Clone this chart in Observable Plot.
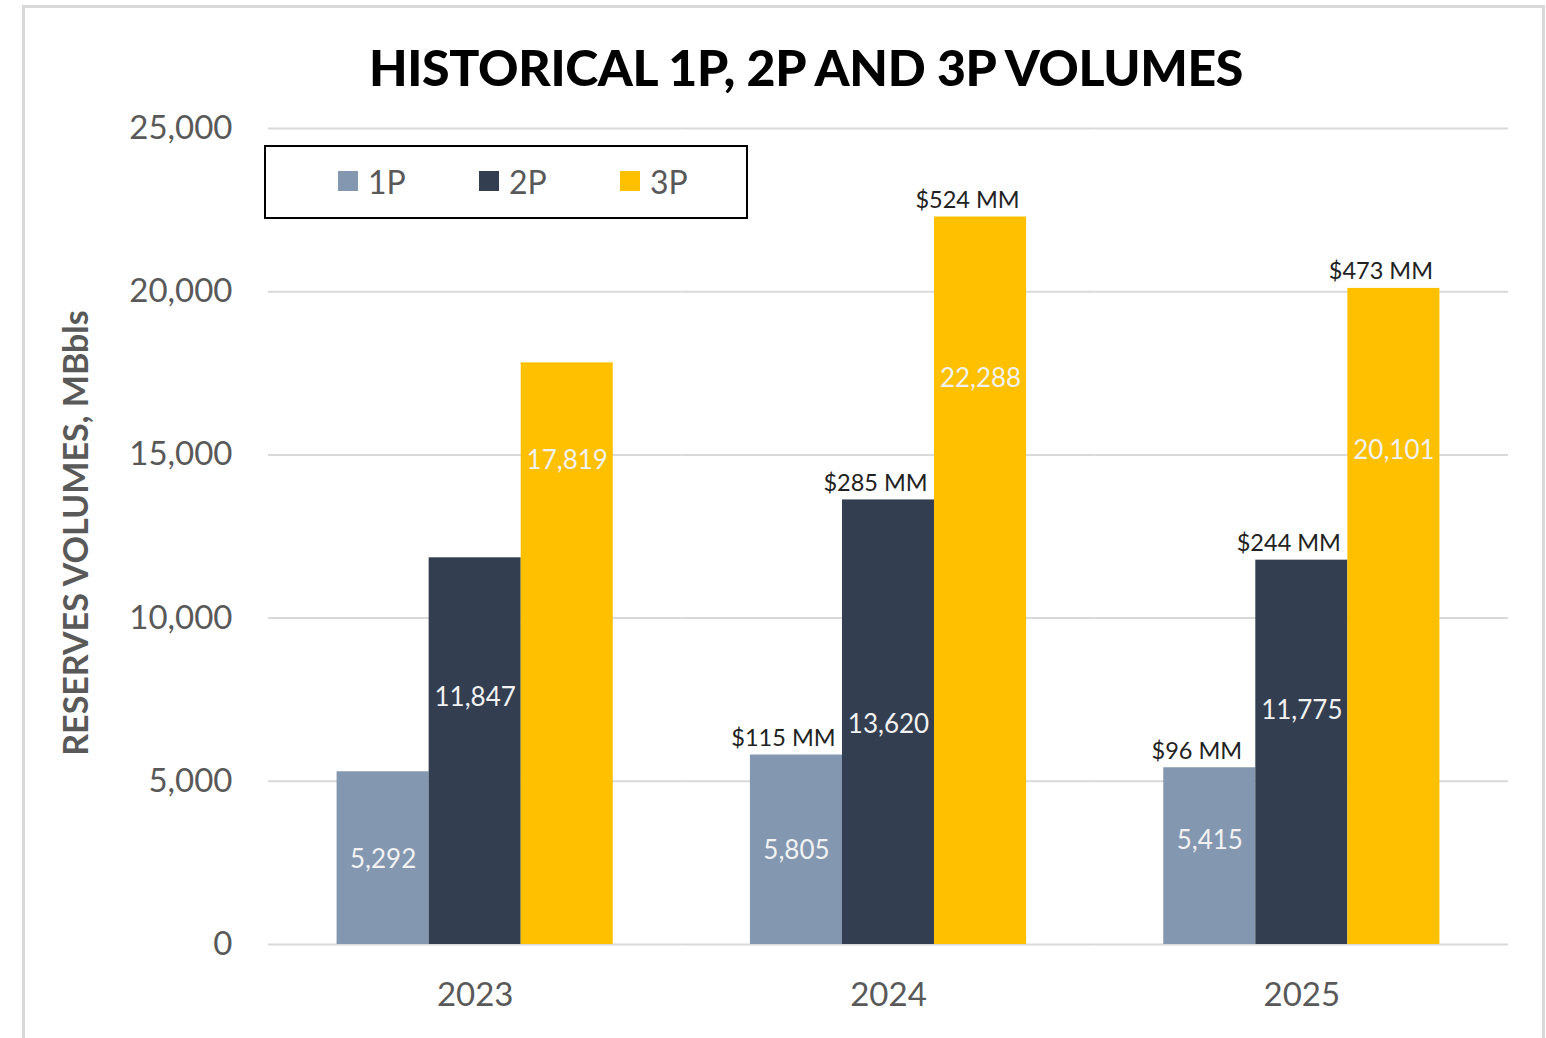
<!DOCTYPE html>
<html><head><meta charset="utf-8">
<script src="https://cdn.jsdelivr.net/npm/d3@7"></script>
<script src="https://cdn.jsdelivr.net/npm/@observablehq/plot@0.6"></script>
<style>
body{margin:0;background:#fff;font-family:Lato,sans-serif;}
#wrap{position:relative;width:1546px;height:1038px;overflow:hidden;background:#fff;}
#frame{position:absolute;left:22px;top:5px;width:1523px;height:1100px;border:3px solid #d9d9d9;box-sizing:border-box;}
#chart{position:absolute;left:0;top:0;}
#title{position:absolute;left:0;width:1612px;top:37px;text-align:center;font-weight:900;font-size:50px;color:#000;letter-spacing:-0.35px;}
#ylabel{position:absolute;left:74px;top:533px;transform:translate(-50%,-50%) rotate(-90deg);white-space:nowrap;font-weight:700;font-size:34px;color:#595959;}
#legend{position:absolute;left:264px;top:145px;width:484px;height:74px;border:2px solid #000;box-sizing:border-box;}
.item{position:absolute;top:0;height:68px;display:flex;align-items:center;font-size:32px;color:#595959;}
.sw{width:20px;height:20px;margin-right:10px;}
</style></head>
<body>
<div id="wrap">
  <div id="frame"></div>
  <div id="chart"></div>
  <div id="title">HISTORICAL 1P, 2P AND 3P VOLUMES</div>
  <div id="ylabel">RESERVES VOLUMES, MBbls</div>
  <div id="legend"></div>
</div>
<script>
const years = ["2023", "2024", "2025"];
const series = ["1P", "2P", "3P"];
const colors = ["#8497b0", "#333f50", "#ffc000"];
const vol1P = [5292, 5805, 5415];
const vol2P = [11847, 13620, 11775];
const vol3P = [17819, 22288, 20101];
// value ($MM) annotations above bars (none for 2023)
const mm1P = [null, 115, 96];
const mm2P = [null, 285, 244];
const mm3P = [null, 524, 473];
// where the inside volume labels sit, in MBbls
const labelAt1P = [2600, 2880, 3190];
const labelAt2P = [7570, 6740, 7170];
const labelAt3P = [14830, 17340, 15140];
const yTicks = [0, 5000, 10000, 15000, 20000, 25000];

const vols = [vol1P, vol2P, vol3P];
const mms = [mm1P, mm2P, mm3P];
const labelAts = [labelAt1P, labelAt2P, labelAt3P];
const rows = [];
years.forEach((yr, i) => series.forEach((s, j) => rows.push({
  year: yr, series: s, value: vols[j][i], mm: mms[j][i], labelAt: labelAts[j][i]
})));

const fmt = d3.format(",d");
const chart = Plot.plot({
  width: 1546, height: 1038,
  marginLeft: 268, marginRight: 38, marginTop: 128, marginBottom: 94,
  style: {fontFamily: "Lato, sans-serif", background: "transparent"},
  fx: {domain: years, padding: 0, round: false, label: null},
  x: {domain: series, paddingInner: 0, paddingOuter: 0.745, round: false, axis: null},
  y: {domain: [0, 25000]},
  color: {domain: series, range: colors},
  marks: [
    Plot.ruleY(yTicks, {stroke: "#d9d9d9", strokeWidth: 2}),
    Plot.barY(rows, {fx: "year", x: "series", y: "value", fill: "series"}),
    Plot.text(rows, {fx: "year", x: "series", y: "labelAt", text: d => fmt(d.value), fill: "#f2f2f2", fontSize: 26}),
    Plot.text(rows.filter(d => d.mm != null), {fx: "year", x: "series", y: "value", text: d => `$${d.mm} MM`,
      lineAnchor: "bottom", dy: -9, dx: -13, fontSize: 23.5, fill: "#222"}),
    Plot.axisY({ticks: yTicks, tickSize: 0, tickPadding: 36, tickFormat: fmt, fontSize: 33, color: "#595959", label: null}),
    Plot.axisFx({anchor: "bottom", tickSize: 0, tickPadding: 38, fontSize: 33, color: "#595959", label: null})
  ]
});
document.getElementById("chart").appendChild(chart);

const legend = document.getElementById("legend");
const legX = [72, 213, 354];
series.forEach((s, j) => {
  const it = document.createElement("div");
  it.className = "item";
  it.style.left = legX[j] + "px";
  it.innerHTML = `<div class="sw" style="background:${colors[j]}"></div><span>${s}</span>`;
  legend.appendChild(it);
});
</script>
</body></html>
